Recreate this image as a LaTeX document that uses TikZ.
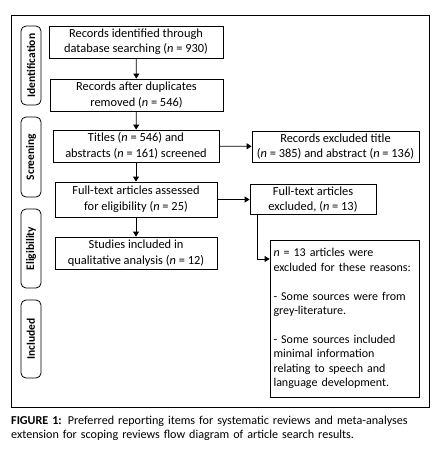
\documentclass[tikz,border=0pt]{standalone}
\usepackage{fontspec}
\setmainfont{Carlito}
\usetikzlibrary{arrows.meta,positioning}
\begin{document}
\begin{tikzpicture}[x=1pt,y=-1pt,
  box/.style={draw,line width=0.8pt,inner sep=2pt,align=center,font=\fontsize{12.4}{15.5}\selectfont},
  pill/.style={draw,line width=0.8pt,rounded corners=5pt,minimum height=20pt,rotate=90,font=\bfseries\fontsize{11.5}{12}\selectfont,inner sep=0pt},
  arr/.style={line width=0.8pt,-{Triangle[width=6pt,length=5pt]}}]
\useasboundingbox (0,0) rectangle (437,453);
\draw[line width=1pt] (11,15) rectangle (429,407);
% pills
\node[pill,minimum width=79pt] (p1) at (31,65.5) {Identification};
\node[pill,minimum width=80pt] (p2) at (31,157) {Screening};
\node[pill,minimum width=79pt] (p3) at (31,248.5) {Eligibility};
\node[pill,minimum width=78pt] (p4) at (31,339) {Included};
% main boxes
\node[box,minimum width=174pt,minimum height=32pt] (b1) at (136,42) {Records identified through\\database searching (\textit{n} = 930)};
\node[box,minimum width=173pt,minimum height=32pt] (b2) at (136.5,95) {Records after duplicates\\removed (\textit{n} = 546)};
\node[box,minimum width=166pt,minimum height=32pt] (b3) at (136,146) {Titles (\textit{n} = 546) and\\abstracts (\textit{n} = 161) screened};
\node[box,minimum width=162pt,minimum height=35pt] (b4) at (136,199.5) {Full-text articles assessed\\for eligibility (\textit{n} = 25)};
\node[box,minimum width=162pt,minimum height=32pt] (b5) at (136,253) {Studies included in\\qualitative analysis (\textit{n} = 12)};
% side boxes
\node[box,minimum width=167pt,minimum height=31pt] (e1) at (335.5,146.5) {Records excluded title\\(\textit{n} = 385) and abstract (\textit{n} = 136)};
\node[box,minimum width=126pt,minimum height=29pt] (e2) at (313,199.5) {Full-text articles\\excluded, (\textit{n} = 13)};
\node[box,align=left,text width=142pt,inner xsep=3.5pt,inner ysep=4pt,minimum height=157pt,font=\fontsize{12}{14.4}\selectfont] (e3) at (344.5,318.5) {\textit{n} = 13 articles were\\\mbox{excluded for these reasons:}\\[14.4pt]- Some sources were from\\grey-literature.\\[14.4pt]- Some sources included\\minimal information\\relating to speech and\\language development.};
% arrows
\draw[arr] (b1) -- (b2);
\draw[arr] (b2) -- (b3);
\draw[arr] (b3) -- (b4);
\draw[arr] (b4) -- (b5);
\draw[arr] (b3) -- (e1);
\draw[arr] (b4.east) -- (e2.west);
\coordinate (c1) at (257,259);
\draw[arr] (e2.south west -| c1) -- (c1) -- (c1 -| e3.west);
% caption
\node[anchor=north west,inner sep=0pt,text width=430pt,align=left,font=\fontsize{12.1}{13.5}\selectfont] (cap) at (11,416) {\textbf{FIGURE 1:} Preferred reporting items for systematic reviews and meta-analyses\\extension for scoping reviews flow diagram of article search results.};
\end{tikzpicture}
\end{document}
